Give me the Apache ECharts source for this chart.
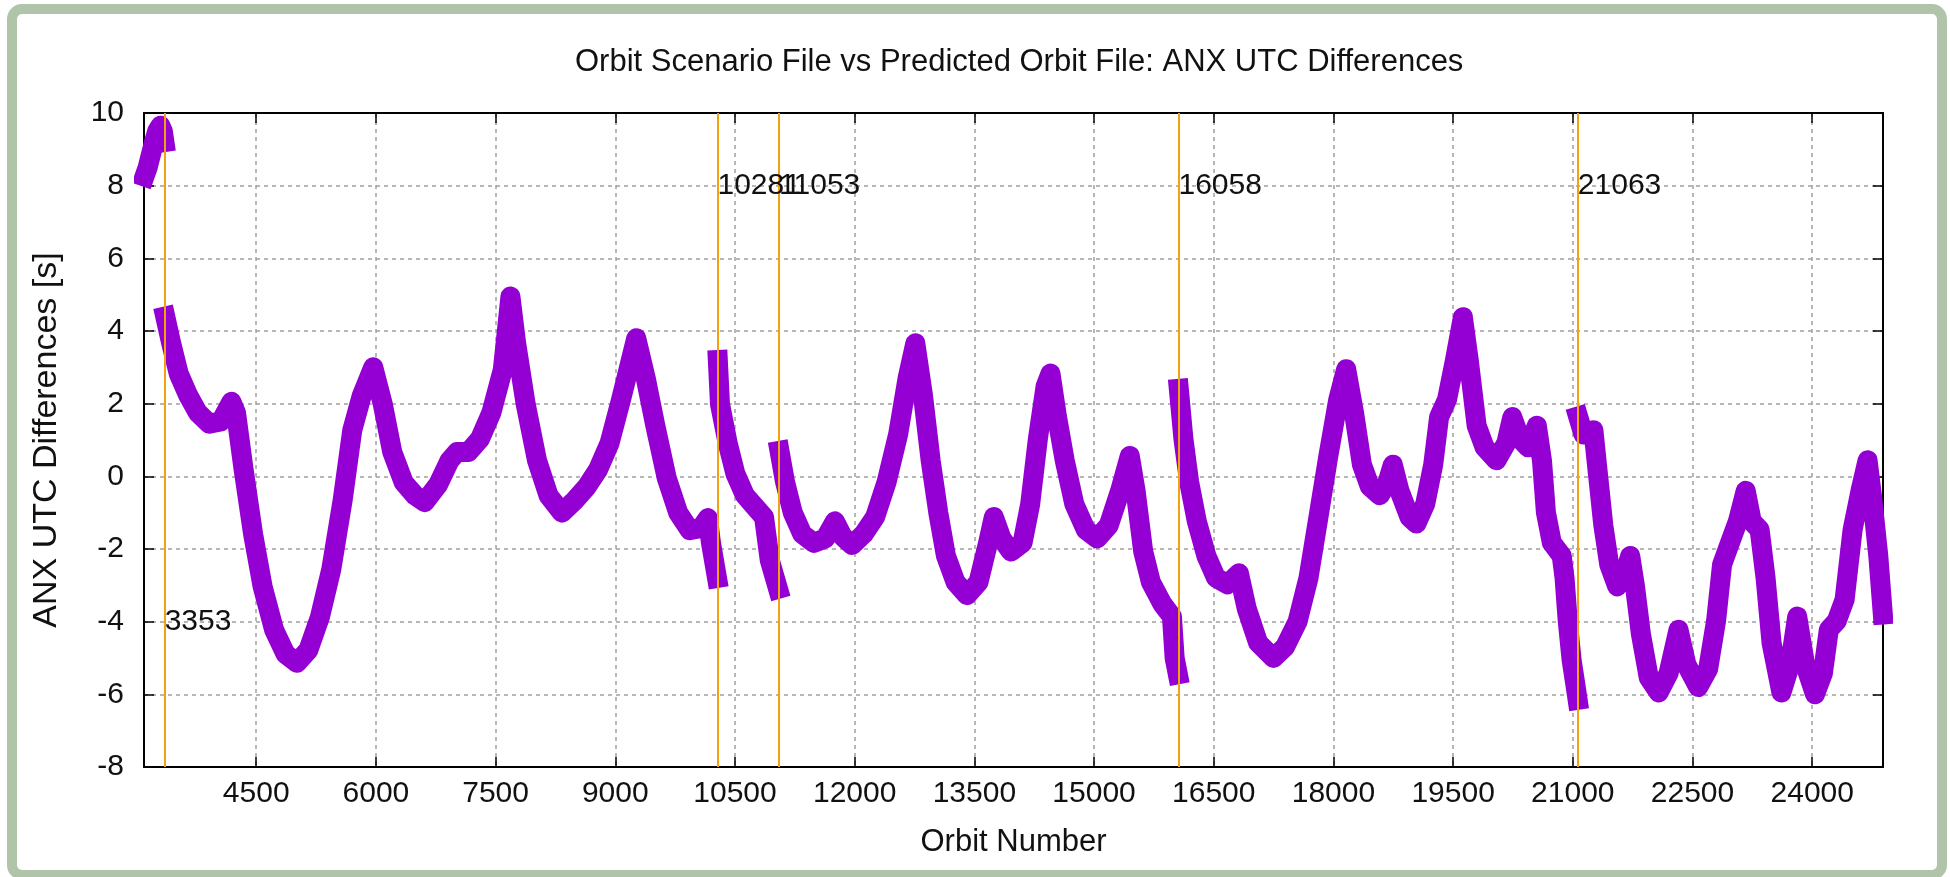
<!DOCTYPE html>
<html>
<head>
<meta charset="utf-8">
<title>Orbit Scenario File vs Predicted Orbit File: ANX UTC Differences</title>
<script src="https://cdn.jsdelivr.net/npm/echarts@6/dist/echarts.min.js"></script>
<style>
  html, body { margin: 0; padding: 0; background: #fff; }
  #chart { width: 1950px; height: 877px; }
</style>
</head>
<body>
<div id="chart"></div>
<script>
// x axis ticks (orbit number)
var xTicks = [4500, 6000, 7500, 9000, 10500, 12000, 13500, 15000, 16500, 18000, 19500, 21000, 22500, 24000];
var xMin = 3094, xMax = 24887;

// orbit where a new predicted orbit file starts, and where its label sits
var markerOrbits = [3353, 10281, 11053, 16058, 21063];
var markerLabelY = [-4, 8, 8, 8, 8];

// ANX UTC differences [s], one pair of arrays per continuous piece
var orbitsA = [3100, 3140, 3180, 3220, 3260, 3300, 3330, 3350];
var diffsA  = [8.25, 8.5, 8.85, 9.2, 9.5, 9.65, 9.5, 9.2];

var orbitsB = [3360, 3435, 3530, 3650, 3769, 3912, 4056, 4190, 4247, 4342, 4462, 4581, 4725, 4868, 5011, 5154,
  5298, 5441, 5584, 5704, 5823, 5967, 6086, 6205, 6349, 6492, 6611, 6779, 6922, 7017, 7161, 7304, 7447, 7591,
  7686, 7758, 7877, 8020, 8164, 8331, 8498, 8642, 8785, 8928, 9071, 9263, 9382, 9502, 9645, 9788, 9932, 10075,
  10160, 10200, 10275];
var diffsB  = [4.4, 3.66, 2.82, 2.22, 1.75, 1.45, 1.51, 2.05, 1.75, 0.19, -1.6, -3.04, -4.23, -4.89, -5.13, -4.78,
  -3.88, -2.56, -0.65, 1.27, 2.22, 3.0, 1.99, 0.67, -0.17, -0.53, -0.71, -0.23, 0.43, 0.67, 0.67, 1.03, 1.75, 2.94,
  4.95, 3.66, 1.99, 0.43, -0.53, -1.0, -0.65, -0.29, 0.19, 0.91, 2.1, 3.8, 2.7, 1.39, -0.05, -1.0, -1.48, -1.42,
  -1.15, -1.84, -2.8];

var orbitsC = [10285, 10312, 10408, 10504, 10624, 10768, 10864, 10936, 11040];
var diffsC  = [3.2, 1.99, 0.92, 0.08, -0.52, -0.88, -1.12, -2.31, -3.1];

var orbitsD = [11058, 11128, 11224, 11344, 11488, 11632, 11752, 11848, 11968, 12112, 12256, 12400, 12544, 12664,
  12760, 12856, 12952, 13048, 13144, 13264, 13408, 13552, 13672, 13744, 13840, 13960, 14104, 14200, 14296, 14392,
  14454, 14536, 14632, 14752, 14896, 15040, 15184, 15328, 15448, 15520, 15616, 15712, 15856, 15976, 16010, 16050];
var diffsD  = [0.7, -0.16, -1.0, -1.59, -1.83, -1.71, -1.24, -1.65, -1.89, -1.59, -1.12, -0.16, 1.15, 2.71,
  3.66, 2.23, 0.44, -1.0, -2.19, -2.91, -3.27, -2.91, -1.83, -1.12, -1.71, -2.07, -1.83, -0.76, 1.03, 2.47,
  2.83, 1.63, 0.44, -0.76, -1.47, -1.71, -1.35, -0.39, 0.56, -0.39, -2.07, -2.91, -3.51, -3.86, -5.0, -5.45];

var orbitsE = [16062, 16120, 16192, 16288, 16408, 16528, 16672, 16816, 16912, 17056, 17248, 17392, 17550, 17688,
  17812, 17936, 18060, 18159, 18258, 18357, 18456, 18580, 18679, 18744, 18828, 18952, 19041, 19150, 19250, 19324,
  19423, 19522, 19622, 19696, 19795, 19894, 20043, 20167, 20241, 20340, 20440, 20549, 20613, 20663, 20737, 20861,
  20896, 20936, 20985, 21035, 21060];
var diffsE  = [2.41, 1.03, -0.16, -1.24, -2.19, -2.79, -2.97, -2.67, -3.63, -4.58, -5.0, -4.7, -4.0, -2.79,
  -1.12, 0.56, 2.11, 2.95, 1.75, 0.32, -0.28, -0.52, -0.16, 0.32, -0.4, -1.12, -1.3, -0.76, 0.32, 1.63,
  2.11, 3.19, 4.38, 3.19, 1.39, 0.8, 0.44, 0.92, 1.63, 1.03, 0.8, 1.39, 0.44, -1.0, -1.83, -2.19,
  -2.79, -3.98, -5.06, -5.78, -6.15];

var orbitsF = [21066, 21134, 21258, 21308, 21382, 21456, 21556, 21655, 21719, 21779, 21853, 21952, 22076, 22200,
  22324, 22423, 22572, 22696, 22795, 22870, 22969, 23068, 23167, 23242, 23341, 23415, 23490, 23614, 23723, 23812,
  23911, 24035, 24134, 24208, 24307, 24406, 24506, 24605, 24694, 24754, 24828, 24885];
var diffsF  = [1.65, 1.15, 1.27, 0.2, -1.35, -2.43, -3.03, -2.67, -2.19, -3.03, -4.34, -5.54, -5.95, -5.42,
  -4.22, -5.18, -5.8, -5.3, -3.98, -2.43, -1.83, -1.24, -0.4, -1.24, -1.47, -2.79, -4.58, -5.95, -5.18, -3.86,
  -5.18, -6.0, -5.42, -4.22, -3.98, -3.39, -1.47, -0.4, 0.44, -0.64, -2.19, -3.8];

var FONT = '"Liberation Sans", Arial, sans-serif';
var TEXT = '#111';
var PURPLE = '#9400d3';
var ORANGE = '#f2a20f';

function pairs(xs, ys) {
  return xs.map(function (x, i) { return [x, ys[i]]; });
}

function piece(xs, ys) {
  return {
    type: 'line',
    data: pairs(xs, ys),
    showSymbol: false,
    clip: false,
    z: 3,
    lineStyle: { color: PURPLE, width: 20, cap: 'square', join: 'round' }
  };
}

var chart = echarts.init(document.getElementById('chart'));

var gridLine = { show: true, lineStyle: { color: '#a0a0a0', width: 1.5, type: [4, 4] } };
var frameLine = { show: true, onZero: false, lineStyle: { color: '#000', width: 2 } };
var tickStyle = { color: '#000', width: 1.5 };

var option = {
  animation: false,
  backgroundColor: '#fff',
  title: {
    text: 'Orbit Scenario File vs Predicted Orbit File: ANX UTC Differences',
    left: 570,
    top: 42,
    textStyle: { fontFamily: FONT, fontSize: 31, fontWeight: 'normal', color: TEXT }
  },
  grid: { left: 144, right: 67, top: 113, bottom: 110 },
  xAxis: [
    {
      type: 'value', position: 'bottom', min: xMin, max: xMax,
      axisLine: frameLine,
      axisTick: { inside: true, length: 10, customValues: xTicks, lineStyle: tickStyle },
      axisLabel: {
        customValues: xTicks, fontFamily: FONT, fontSize: 30, color: TEXT, margin: 12,
        formatter: function (v) { return String(v); }
      },
      splitLine: gridLine,
      name: 'Orbit Number', nameLocation: 'middle', nameGap: 60,
      nameTextStyle: { fontFamily: FONT, fontSize: 31, color: TEXT }
    },
    {
      type: 'value', position: 'top', min: xMin, max: xMax,
      axisLine: frameLine,
      axisTick: { inside: true, length: 10, customValues: xTicks, lineStyle: tickStyle },
      axisLabel: { show: false },
      splitLine: { show: false }
    }
  ],
  yAxis: [
    {
      type: 'value', position: 'left', min: -8, max: 10, interval: 2,
      axisLine: frameLine,
      axisTick: { inside: true, length: 10, lineStyle: tickStyle },
      axisLabel: { fontFamily: FONT, fontSize: 30, color: TEXT, margin: 20 },
      splitLine: gridLine,
      name: 'ANX UTC Differences [s]', nameLocation: 'middle', nameRotate: 90, nameGap: 80,
      nameTextStyle: { fontFamily: FONT, fontSize: 34, color: TEXT }
    },
    {
      type: 'value', position: 'right', min: -8, max: 10, interval: 2,
      axisLine: frameLine,
      axisTick: { inside: true, length: 10, lineStyle: tickStyle },
      axisLabel: { show: false },
      splitLine: { show: false }
    }
  ],
  series: [
    piece(orbitsA, diffsA),
    piece(orbitsB, diffsB),
    piece(orbitsC, diffsC),
    piece(orbitsD, diffsD),
    piece(orbitsE, diffsE),
    piece(orbitsF, diffsF),
    {
      // orbit labels and vertical marker lines
      type: 'scatter',
      z: 5,
      symbolSize: 0,
      itemStyle: { opacity: 1 },
      data: pairs(markerOrbits, markerLabelY),
      label: {
        show: true, position: 'right', distance: 0,
        fontFamily: FONT, fontSize: 30, color: TEXT,
        formatter: function (p) { return String(p.value[0]); }
      },
      markLine: {
        silent: true,
        symbol: ['none', 'none'],
        label: { show: false },
        lineStyle: { color: ORANGE, width: 2, type: 'solid' },
        data: markerOrbits.map(function (v) { return { xAxis: v }; })
      }
    }
  ],
  graphic: [
    {
      type: 'rect', silent: true, z: 100,
      shape: { x: 12, y: 9, width: 1930, height: 866, r: 10 },
      style: { fill: 'transparent', stroke: '#afc4a8', lineWidth: 10 }
    }
  ]
};

chart.setOption(option);
</script>
</body>
</html>
